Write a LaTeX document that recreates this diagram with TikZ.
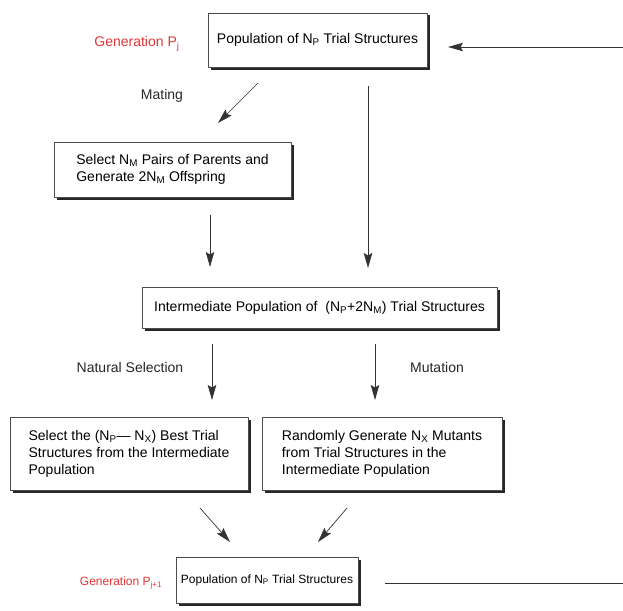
\documentclass[tikz,border=0pt]{standalone}
\usepackage{fontspec}
\setmainfont{Liberation Sans}
\usetikzlibrary{arrows.meta,shadows}
\definecolor{genred}{RGB}{226,52,52}
\begin{document}
\begin{tikzpicture}[x=1pt,y=-1pt,line join=round,font=\fontsize{14}{17}\selectfont,>={Stealth[length=15pt,width=8.5pt,inset=2.5pt]}]
	\tikzset{box/.style={draw=black!70,fill=white,thin,inner sep=0pt,align=left,
			drop shadow={shadow xshift=2.5pt,shadow yshift=-2.5pt,fill=black!85,opacity=1}},
		gen/.style={text=genred,inner sep=0pt},
		lab/.style={text=black!85,inner sep=0pt},
		link/.style={draw=black!80,line width=0.7pt}}
	\useasboundingbox (0,0) rectangle (623,610);
	% boxes
	\node[box,minimum width=219pt,minimum height=54pt] (popj) at (317.5,40) {Population of N\textsubscript{P} Trial Structures};
	\node[box,minimum width=237pt,minimum height=55pt] (offspring) at (172.5,169.5) {Select N\textsubscript{M} Pairs of Parents and\\Generate 2N\textsubscript{M} Offspring};
	\node[box,minimum width=355pt,minimum height=41pt] (inter) at (319.5,307.5) {Intermediate Population of~ (N\textsubscript{P}+2N\textsubscript{M}) Trial Structures};
	\node[box,minimum width=238pt,minimum height=73pt] (best) at (129,453.5) {Select the (N\textsubscript{P}— N\textsubscript{X}) Best Trial\\Structures from the Intermediate\\Population};
	\node[box,minimum width=240pt,minimum height=73pt] (mutants) at (382,453.5) {Randomly Generate N\textsubscript{X} Mutants\\from Trial Structures in the\\Intermediate Population};
	\node[box,minimum width=182pt,minimum height=46pt,font=\fontsize{12}{14}\selectfont] (popj1) at (267,580) {Population of N\textsubscript{P} Trial Structures};
	% labels
	\node[gen] (genj) at (137,44) {Generation P\textsubscript{j}};
	\node[gen,font=\fontsize{12}{14}\selectfont] (genj1) at (121,583) {Generation P\textsubscript{j+1}};
	\node[lab] (mating) at (162,96) {Mating};
	\node[lab] (natsel) at (130,367) {Natural Selection};
	\node[lab] (mutation) at (437,367) {Mutation};
	% arrow ends
	\coordinate (mat1) at (258,83);   \coordinate (mat2) at (218,123);
	\coordinate (off1) at (210,215);  \coordinate (off2) at (210,267);
	\coordinate (dir1) at (368,86);   \coordinate (dir2) at (368,268);
	\coordinate (nat1) at (212,344);  \coordinate (nat2) at (212,400);
	\coordinate (mut1) at (375,344);  \coordinate (mut2) at (375,400);
	\coordinate (best1) at (200,508); \coordinate (best2) at (230,542);
	\coordinate (rand1) at (347,508); \coordinate (rand2) at (318,542);
	\coordinate (back1) at (623,47);  \coordinate (back2) at (448,47);
	\coordinate (fwd1) at (385,583);  \coordinate (fwd2) at (623,583);
	\foreach \a/\b in {mat1/mat2,off1/off2,dir1/dir2,nat1/nat2,mut1/mut2,best1/best2,rand1/rand2,back1/back2}
	\draw[link,->] (\a)--(\b);
	\draw[link] (fwd1)--(fwd2);
\end{tikzpicture}
\end{document}
